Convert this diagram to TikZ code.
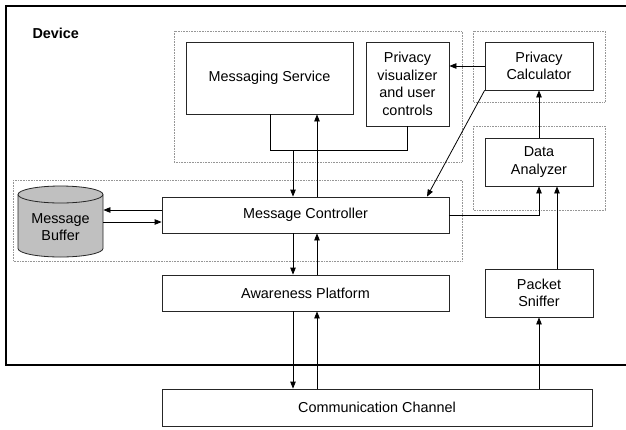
\documentclass[tikz,border=0pt]{standalone}
\usepackage{fontspec}
\setmainfont{Liberation Sans}
\usepackage{xcolor}
\usepackage{tikz}
\usetikzlibrary{arrows.meta,positioning,calc}
\definecolor{bufcol}{RGB}{192,192,192}
\definecolor{grpcol}{RGB}{150,150,150}

\begin{document}
\begin{tikzpicture}[x=1pt, y=-1pt, >={Triangle[length=7pt,width=5.5pt]},
  box/.style={draw=black!85, line width=0.8pt, inner sep=0pt, align=center,
    font=\fontsize{14.4}{17.5}\selectfont},
  grp/.style={draw=grpcol, densely dotted, line width=0.6pt},
  arr/.style={->, line width=0.8pt}]
\clip (0,0) rectangle (626,429);
\fill[white] (0,0) rectangle (626,429);
\draw[line width=2.4pt] (6,6) rectangle (660,365);
\node[anchor=west, font=\fontsize{14.4}{17}\selectfont\bfseries] (dev) at (29,33) {Device};
% groups
\draw[grp] (174,31) rectangle (462,162);
\draw[grp] (473,31) rectangle (605,102);
\draw[grp] (473,126) rectangle (605,210);
\draw[grp] (13,180) rectangle (462,261);
% components
\node[box, minimum width=167pt, minimum height=72pt] (ms) at (269.5,78) {Messaging Service};
\node[box, minimum width=83pt, minimum height=84pt] (pv) at (407.5,84) {Privacy\\visualizer\\and user\\controls};
\node[box, minimum width=108pt, minimum height=48pt] (pc) at (539,66) {Privacy\\Calculator};
\node[box, minimum width=108pt, minimum height=48pt] (da) at (539,162) {Data\\Analyzer};
\node[box, minimum width=287pt, minimum height=36pt] (mc) at (305.5,215) {Message Controller};
\node[box, minimum width=287pt, minimum height=36pt] (ap) at (305.5,293) {Awareness Platform};
\node[box, minimum width=108pt, minimum height=48pt] (ps) at (539,293) {Packet\\Sniffer};
\node[box, minimum width=430pt, minimum height=37pt] (cc) at (377,407.5) {Communication Channel};
% buffer
\filldraw[fill=bufcol, draw=black!85, line width=0.8pt] (18,194.5) -- (18,248.5)
  arc[start angle=180, end angle=360, x radius=42.5pt, y radius=8.5pt] -- (103,194.5)
  arc[start angle=0, end angle=180, x radius=42.5pt, y radius=8.5pt] -- cycle;
\draw[black!85, line width=0.8pt] (18,194.5)
  arc[start angle=180, end angle=360, x radius=42.5pt, y radius=8.5pt];
\node[box, draw=none, minimum width=85pt] (mb) at (60.5,227) {Message\\Buffer};
% columns
\coordinate (xm) at (270,0);
\coordinate (xa) at (293,0);
\coordinate (xb) at (317,0);
\coordinate (xd) at (557,0);
\coordinate (xe) at (427,0);
\coordinate (jn) at (0,150);
% connectors
\draw[line width=0.8pt] (ms.south -| xm) -- (xm |- jn) -| (pv.south);
\draw[arr] (xa |- jn) -- (mc.north -| xa);
\draw[arr] (mc.north -| xb) -- (ms.south -| xb);
\draw[arr] (mc.south -| xa) -- (ap.north -| xa);
\draw[arr] (ap.north -| xb) -- (mc.south -| xb);
\draw[arr] (ap.south -| xa) -- (cc.north -| xa);
\draw[arr] (cc.north -| xb) -- (ap.south -| xb);
\draw[arr] ([yshift=5pt]mc.west) coordinate (t1) -- (t1 -| mb.east);
\draw[arr] (mb.east |- 0,222) coordinate (t2) -- (t2 -| mc.west);
\draw[arr] (mc.east) -| (da.south);
\draw[arr] (ps.north -| xd) -- (da.south -| xd);
\draw[arr] (cc.north -| ps.south) -- (ps.south);
\draw[arr] (da.north) -- (pc.south);
\draw[arr] (pc.west) -- (pc.west -| pv.east);
\draw[arr] (pc.south west) -- (mc.north -| xe);
\end{tikzpicture}
\end{document}
